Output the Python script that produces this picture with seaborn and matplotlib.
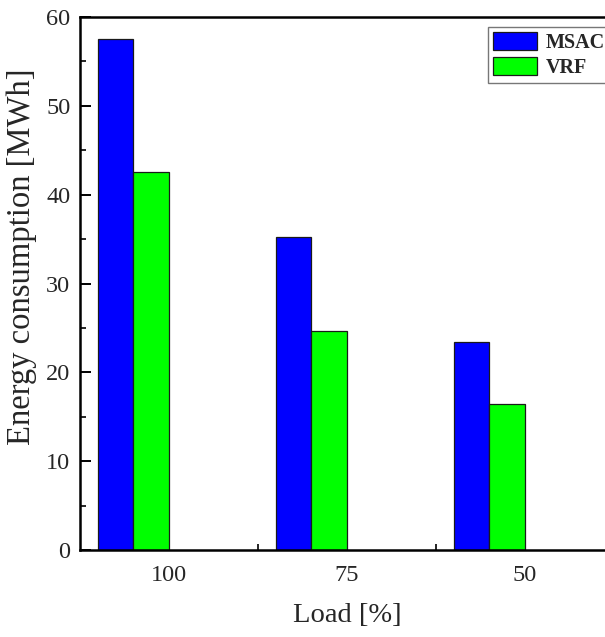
import matplotlib
matplotlib.use("Agg")
import matplotlib.pyplot as plt
from matplotlib.patches import Patch
from matplotlib.ticker import MultipleLocator, FixedLocator
import seaborn as sns
import pandas as pd

# Energy consumption by part-load level
loads = ["100", "75", "50"]
msac = [57.5, 35.2, 23.4]
vrf = [42.5, 24.6, 16.4]
systems = ["MSAC", "VRF"]
colors = ["#0000FF", "#00FF00"]

df = pd.DataFrame({
    "Load": loads * 2,
    "Energy": msac + vrf,
    "System": [systems[0]] * len(loads) + [systems[1]] * len(loads),
})

sns.set_style("ticks")
plt.rcParams["font.family"] = ["Liberation Serif", "DejaVu Serif"]

W, H = 605, 637
fig = plt.figure(figsize=(W / 100, H / 100), dpi=100)
ax = fig.add_axes([80 / W, (H - 550) / H, (614 - 80) / W, (550 - 17) / H])

sns.barplot(data=df, x="Load", y="Energy", hue="System", order=loads,
            hue_order=systems, palette=colors, width=0.4, gap=0,
            edgecolor="#1a1a1a", linewidth=0.9, saturation=1,
            legend=False, ax=ax)

# category ticks sit at the right edge of each group
ax.xaxis.set_major_locator(FixedLocator([i + 0.2 for i in range(len(loads))]))
ax.set_xticklabels(loads)
ax.xaxis.set_minor_locator(FixedLocator([i + 0.7 for i in range(len(loads))]))
ax.set_xlim(-0.3, len(loads) - 0.3)

ax.set_ylim(0, 60)
ax.yaxis.set_major_locator(MultipleLocator(10))
ax.yaxis.set_minor_locator(MultipleLocator(5))

for side in ["left", "bottom", "top", "right"]:
    ax.spines[side].set_visible(True)
    ax.spines[side].set_linewidth(1.8)
    ax.spines[side].set_color("black")

ax.tick_params(axis="both", which="major", direction="in", length=8,
               width=1.4, labelsize=17.5, color="black")
ax.tick_params(axis="both", which="minor", direction="in", length=4.5,
               width=1.2, color="black")
ax.tick_params(axis="x", which="both", top=False)
ax.tick_params(axis="y", which="both", right=False)
ax.tick_params(axis="y", which="major", pad=7)
ax.tick_params(axis="x", which="major", pad=11)

ax.set_xlabel("Load [%]", fontsize=20.5)
ax.xaxis.set_label_coords(0.5, -0.1)
ax.set_ylabel("Energy consumption [MWh]", fontsize=23.5)
ax.yaxis.set_label_coords(-0.08, 0.55)

handles = [Patch(facecolor=c, edgecolor="#1a1a1a", linewidth=0.9) for c in colors]
leg = ax.legend(handles, systems, loc="upper left",
                bbox_to_anchor=(488 / W, (H - 27) / H),
                bbox_transform=fig.transFigure,
                prop={"weight": "bold", "size": 14.5}, frameon=True,
                fancybox=False, edgecolor="#777777", framealpha=1,
                handlelength=2.2, handleheight=1.0, labelspacing=0.2,
                handletextpad=0.4, borderpad=0.25, borderaxespad=0)
leg.get_frame().set_linewidth(1.0)

fig.savefig("out.png", dpi=100)
